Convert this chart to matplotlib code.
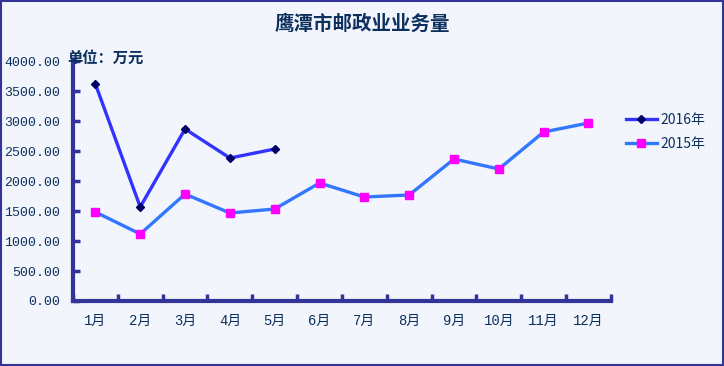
import numpy as np
import matplotlib
matplotlib.use('Agg')
from matplotlib import pyplot as plt
from matplotlib.patches import Rectangle
from matplotlib.ticker import FixedLocator

plt.rcParams['font.family'] = ['Noto Sans CJK SC', 'DejaVu Sans']

months = ['1月', '2月', '3月', '4月', '5月', '6月', '7月', '8月', '9月', '10月', '11月', '12月']
y2016 = [3617, 1567, 2867, 2383, 2533]
y2015 = [1483, 1117, 1783, 1467, 1533, 1967, 1733, 1767, 2367, 2200, 2817, 2967]
yticks = [0, 500, 1000, 1500, 2000, 2500, 3000, 3500, 4000]

bg = '#F2F6FC'
axc = '#333399'
txt = '#0D2F5E'
mono = ['Liberation Mono', 'Noto Sans CJK SC']

fig = plt.figure(figsize=(7.24, 3.66), dpi=100, facecolor=bg)
fig.patches.append(Rectangle((0.002, 0.003), 0.996, 0.994, transform=fig.transFigure,
                             fill=False, edgecolor=axc, lw=1.5))
ax = fig.add_axes([0.1008, 0.1776, 0.743, 0.6557], facecolor=bg)

x = np.arange(len(months))
ax.plot(x[:len(y2016)], y2016, color='#3333FF', lw=2.4, marker='D', ms=4.5,
        mfc='#000066', mec='#000066', label='2016年', zorder=3)
ax.plot(x, y2015, color='#3377FF', lw=2.4, marker='s', ms=5.5,
        mfc='#FF00FF', mec='#FF00FF', label='2015年', zorder=3)

ax.set_xlim(-0.5, 11.5)
ax.set_ylim(0, 4000)
ax.set_xticks(x)
ax.set_xticklabels(months, family=mono, fontsize=10)
ax.xaxis.set_minor_locator(FixedLocator(np.arange(-0.5, 12, 1)))
ax.tick_params(axis='x', which='major', length=0, pad=9, labelcolor=txt)
ax.tick_params(axis='x', which='minor', length=5, width=2.5, direction='in', color=axc)
ax.set_yticks(yticks)
ax.set_yticklabels(['%.2f' % v for v in yticks], family=mono, fontsize=9.5)
ax.tick_params(axis='y', length=5, width=2.5, direction='in', color=axc,
               labelcolor=txt, pad=9)
for s in ['top', 'right']:
    ax.spines[s].set_visible(False)
for s in ['left', 'bottom']:
    ax.spines[s].set_color(axc)
    ax.spines[s].set_linewidth(3)

fig.text(0.5, 0.935, '鹰潭市邮政业业务量', ha='center', va='center',
         fontsize=14, fontweight='bold', color=txt)
fig.text(0.093, 0.843, '单位：万元', ha='left', va='center',
         fontsize=11, fontweight='bold', color=txt)

ax.legend(loc='center left', bbox_to_anchor=(1.005, 0.705), frameon=False,
          fontsize=10, labelcolor=txt, handlelength=2.2, handletextpad=0.3,
          labelspacing=0.75)

fig.savefig('out.png', dpi=100, facecolor=bg)
